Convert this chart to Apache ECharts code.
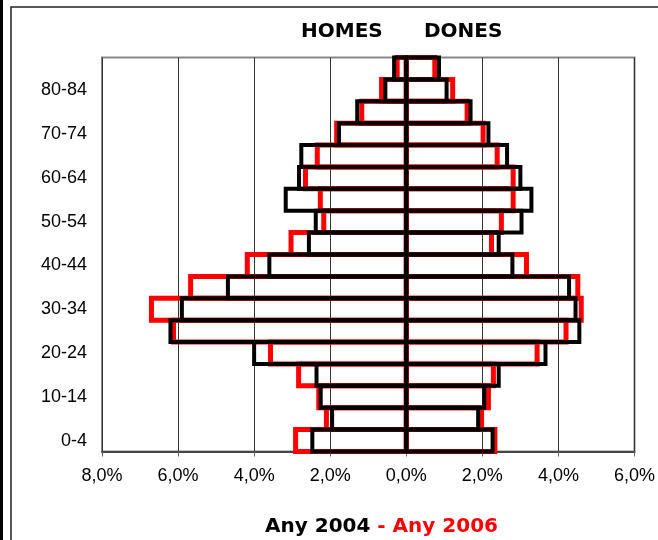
<!DOCTYPE html>
<html lang="ca">
<head>
    <meta charset="UTF-8">
    <title>Piràmide 2004 - 2006</title>
    <script src="https://cdn.jsdelivr.net/npm/echarts@6/dist/echarts.min.js"></script>
    <style>
        html, body { margin: 0; padding: 0; background: #fff; }
        #main { width: 658px; height: 540px; }
    </style>
</head>
<body>
<div id="main"></div>
<script>
    // grups d'edat, de baix a dalt
    var edats = ['0-4', '5-9', '10-14', '15-19', '20-24', '25-29', '30-34', '35-39', '40-44',
        '45-49', '50-54', '55-59', '60-64', '65-69', '70-74', '75-79', '80-84', '85+'];
    // percentatges (%)
    var homes2004 = [2.47, 1.95, 2.25, 2.36, 4.0, 6.2, 5.9, 4.69, 3.6, 2.56, 2.38, 3.17, 2.82, 2.76, 1.77, 1.29, 0.55, 0.32];
    var dones2004 = [2.27, 1.89, 2.05, 2.43, 3.66, 4.55, 4.45, 4.28, 2.79, 2.43, 3.03, 3.29, 3.0, 2.65, 2.16, 1.69, 1.06, 0.86];
    var homes2006 = [2.91, 2.1, 2.3, 2.83, 3.57, 6.12, 6.7, 5.67, 4.18, 3.03, 2.17, 2.26, 2.65, 2.34, 1.83, 1.17, 0.65, 0.24];
    var dones2006 = [2.33, 1.98, 2.16, 2.29, 3.44, 4.2, 4.6, 4.51, 3.16, 2.24, 2.5, 2.81, 2.81, 2.39, 2.02, 1.6, 1.22, 0.75];

    var chart = echarts.init(document.getElementById('main'));

    // barra buida amb la vora centrada al límit (com a Excel)
    function barra(nom, dades, color, gruix, negatiu) {
        return {
            name: nom,
            type: 'custom',
            silent: true,
            encode: { x: 0, y: 1 },
            data: dades.map(function (v, i) { return [negatiu ? -v : v, i]; }),
            renderItem: function (params, api) {
                var idx = api.value(1);
                var p0 = api.coord([0, idx]);
                var p1 = api.coord([api.value(0), idx]);
                var h = api.size([0, 1])[1];
                return {
                    type: 'rect',
                    shape: {
                        x: Math.min(p0[0], p1[0]),
                        y: p0[1] - h / 2,
                        width: Math.abs(p1[0] - p0[0]),
                        height: h
                    },
                    style: { fill: 'none', stroke: color, lineWidth: gruix }
                };
            }
        };
    }

    var option = {
        animation: false,
        backgroundColor: '#fff',
        title: [
            {
                text: 'HOMES', left: 301, top: 22, padding: 0,
                textStyle: { fontFamily: 'DejaVu Sans', fontWeight: 'bold', fontSize: 20, color: '#000' }
            },
            {
                text: 'DONES', left: 424, top: 22, padding: 0,
                textStyle: { fontFamily: 'DejaVu Sans', fontWeight: 'bold', fontSize: 20, color: '#000' }
            },
            {
                text: '{a|Any 2004}{b| - Any 2006}', left: 265, top: 517, padding: 0,
                textStyle: {
                    rich: {
                        a: { fontFamily: 'DejaVu Sans', fontWeight: 'bold', fontSize: 20, color: '#000' },
                        b: { fontFamily: 'DejaVu Sans', fontWeight: 'bold', fontSize: 20, color: '#ff0000' }
                    }
                }
            }
        ],
        graphic: [
            { type: 'rect', shape: { x: 0, y: 0, width: 3, height: 540 }, style: { fill: '#000' } },
            { type: 'rect', shape: { x: 11, y: 7, width: 700, height: 600 }, style: { fill: 'none', stroke: '#222', lineWidth: 1.5 } }
        ],
        grid: {
            left: 102, right: 23, top: 57.5, bottom: 88.5,
            show: true, borderColor: '#888', borderWidth: 2
        },
        xAxis: {
            type: 'value',
            min: -8, max: 6, interval: 2,
            axisLine: { show: true, lineStyle: { color: '#444', width: 2 } },
            axisTick: { show: true, inside: false, length: 5, lineStyle: { color: '#666', width: 1 } },
            axisLabel: {
                margin: 16,
                fontFamily: 'Liberation Sans', fontSize: 18, color: '#000',
                formatter: function (v) { return Math.abs(v).toFixed(1).replace('.', ',') + '%'; }
            },
            splitLine: { show: true, lineStyle: { color: '#333', width: 1 } }
        },
        yAxis: {
            type: 'category',
            data: edats,
            axisLine: { show: false },
            axisTick: { show: false },
            axisLabel: {
                interval: 1, margin: 15,
                fontFamily: 'Liberation Sans', fontSize: 18, color: '#000'
            },
            splitLine: { show: false }
        },
        series: [
            barra('Homes 2006', homes2006, '#ff0000', 5, true),
            barra('Dones 2006', dones2006, '#ff0000', 5, false),
            barra('Homes 2004', homes2004, '#000', 4, true),
            barra('Dones 2004', dones2004, '#000', 4, false)
        ]
    };
    chart.setOption(option);
</script>
</body>
</html>
